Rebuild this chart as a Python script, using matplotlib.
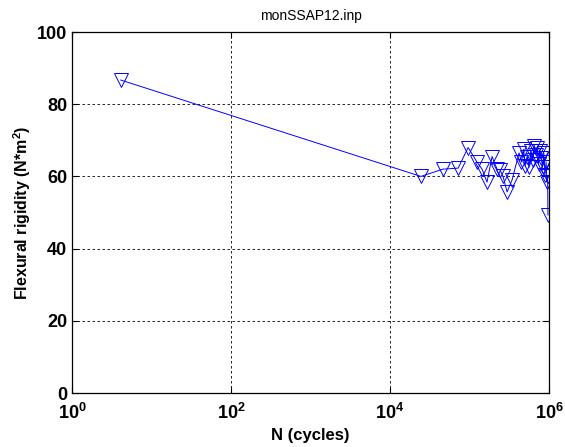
import math
import matplotlib
matplotlib.use("Agg")
import matplotlib.pyplot as plt
from matplotlib.ticker import FixedLocator, FuncFormatter, NullLocator

plt.rcParams['font.family'] = ['Liberation Sans', 'DejaVu Sans']
plt.rcParams['mathtext.fontset'] = 'custom'
plt.rcParams['mathtext.rm'] = 'Liberation Sans'
plt.rcParams['mathtext.bf'] = 'Liberation Sans:bold'

# cycles and measured flexural rigidity
cycles = [4.1, 24500, 46000, 72000, 96000, 124000, 144000, 166000, 192000,
          222000, 242000, 264000, 297000, 343000, 420000, 450000, 480000,
          500000, 530000, 560000, 590000, 620000, 650000, 680000, 710000,
          740000, 770000, 800000, 830000, 860000, 890000, 920000, 940000,
          960000, 970000]
rigidity = [86.7, 60.0, 62.0, 62.3, 68.0, 64.0, 62.0, 58.4, 65.5,
            62.0, 61.8, 60.0, 55.7, 59.0, 66.5, 64.0, 67.5,
            63.0, 65.5, 62.5, 67.0, 64.5, 68.5, 66.0, 68.0,
            63.5, 67.0, 65.0, 62.5, 66.5, 60.5, 64.0, 58.5,
            60.0, 49.3]

x_ticks = [1e0, 1e2, 1e4, 1e6]
y_ticks = [0, 20, 40, 60, 80, 100]

fig = plt.figure(figsize=(5.65, 4.47), dpi=100)
ax = fig.add_axes([0.1274, 0.1208, 0.8443, 0.8076])

ax.plot(cycles, rigidity, color='blue', linewidth=0.7, marker='v',
        markersize=10, markerfacecolor='none', markeredgecolor='blue',
        markeredgewidth=0.7)

ax.set_xscale('log')
ax.set_xlim(1e0, 1e6)
ax.set_ylim(0, 100)
ax.xaxis.set_major_locator(FixedLocator(x_ticks))
ax.xaxis.set_minor_locator(NullLocator())
ax.xaxis.set_major_formatter(FuncFormatter(
    lambda v, p: r'$\mathbf{10^{%d}}$' % round(math.log10(v))))
ax.yaxis.set_major_locator(FixedLocator(y_ticks))

ax.grid(True, color='black', linestyle=(0, (3, 3)), linewidth=0.6)
ax.tick_params(direction='in', length=4, width=0.8, labelsize=13,
               top=True, right=True)
ax.tick_params(axis='x', pad=7)
for lbl in ax.get_yticklabels():
    lbl.set_fontweight('bold')
for sp in ax.spines.values():
    sp.set_linewidth(0.9)

ax.set_title('monSSAP12.inp', fontsize=10, pad=9)
ax.set_xlabel('N (cycles)', fontsize=12, fontweight='bold', labelpad=4)
ax.set_ylabel(r'Flexural rigidity (N*m$^\mathbf{2}$)', fontsize=11.5,
              fontweight='bold', labelpad=3)

fig.savefig('out.png', dpi=100)
